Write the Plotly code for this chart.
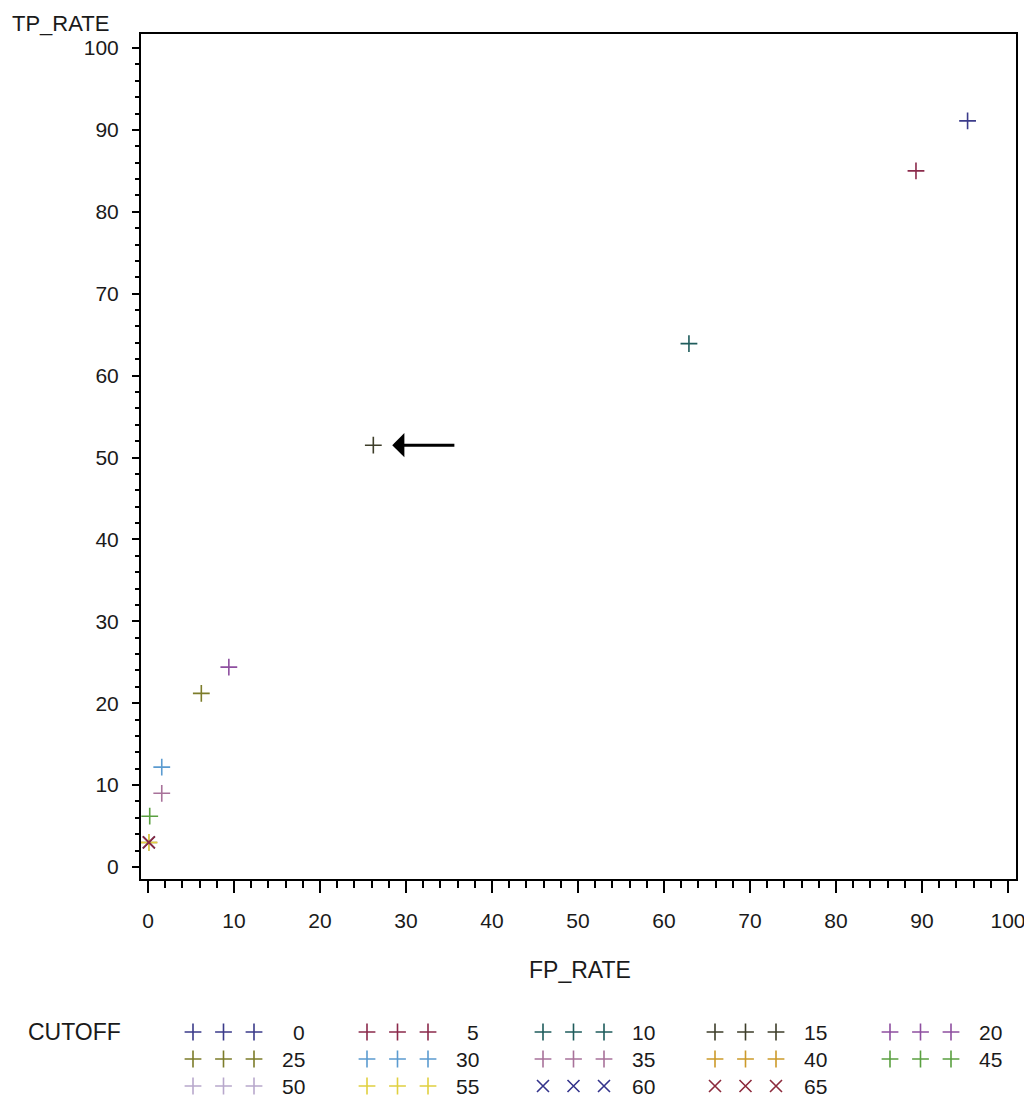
import plotly.graph_objects as go

# ---------------- data ----------------
cutoffs = [0, 5, 10, 15, 20, 25, 30, 35, 40, 45, 50, 55, 60, 65]
fp_rate = [95.3, 89.3, 62.9, 26.2, 9.4, 6.2, 1.6, 1.6, 0.1, 0.2, 0.1, 0.1, 0.1, 0.1]
tp_rate = [91.1, 85.0, 63.9, 51.5, 24.4, 21.2, 12.2, 9.0, 3.0, 6.2, 3.0, 3.0, 3.0, 3.0]
colors = ['#3B3B8A', '#8B2A4B', '#1F5C5C', '#3E3E2A', '#8E4FA0', '#7C7C2A', '#5B9BD0',
          '#A8729A', '#CC9A2A', '#5AA040', '#B8A8CC', '#E0D040', '#34348C', '#8C2A3C']
symbols = ['cross-thin'] * 12 + ['x-thin', 'x-thin']
x_ticks = list(range(0, 101, 10))
y_ticks = list(range(0, 101, 10))
arrow_tip = (28.4, 51.5)
arrow_tail = (35.8, 51.5)

# page has an 8px body margin -> shift everything up/left by 8px
OFF = 8
W, H = 1032 - OFF, 1104 - OFF
FONT = 'Liberation Sans, Arial, sans-serif'
TXT = '#1a1a1a'


def px(v):
    return v - OFF


# plot-area pixel box (reference coordinates, shifted)
L, R, T, B = px(141), px(1016), px(34), px(879)

fig = go.Figure()

MS = 12
for c, fx, ty, col, sym in zip(cutoffs, fp_rate, tp_rate, colors, symbols):
    fig.add_trace(go.Scatter(
        x=[fx], y=[ty], mode='markers', name=str(c),
        marker=dict(symbol=sym, size=MS, color=col, line=dict(color=col, width=1.6)),
        cliponaxis=False, xaxis='x', yaxis='y'))

# ---- custom legend (pixel coordinates on an invisible overlay axis) ----
col_x = [193, 367, 543, 715, 890]
row_y = [1032, 1059, 1086]
step = 30.5
annotations = []
for i, (c, col, sym) in enumerate(zip(cutoffs, colors, symbols)):
    cx = px(col_x[i % 5])
    ry = px(row_y[i // 5])
    fig.add_trace(go.Scatter(
        x=[cx, cx + step, cx + 2 * step], y=[ry, ry, ry], mode='markers',
        marker=dict(symbol=sym, size=MS, color=col, line=dict(color=col, width=1.6)),
        xaxis='x2', yaxis='y2', hoverinfo='skip', cliponaxis=False))
    annotations.append(dict(
        x=cx + 2 * step + 53, y=ry, xref='x2', yref='y2', text=str(c),
        showarrow=False, xanchor='right', yanchor='middle',
        font=dict(family=FONT, size=21, color=TXT)))

annotations.append(dict(x=px(26), y=px(1032), xref='x2', yref='y2', text='CUTOFF',
                        showarrow=False, xanchor='left', yanchor='middle',
                        font=dict(family=FONT, size=23, color=TXT)))
annotations.append(dict(x=px(10), y=0.5, xref='x2', yref='y2', text='TP_RATE',
                        showarrow=False, xanchor='left', yanchor='top',
                        font=dict(family=FONT, size=22, color=TXT)))
annotations.append(dict(x=(L + R) / 2 + 1, y=px(970), xref='x2', yref='y2', text='FP_RATE',
                        showarrow=False, xanchor='center', yanchor='middle',
                        font=dict(family=FONT, size=23, color=TXT)))
# arrow pointing at the chosen cutoff
annotations.append(dict(x=arrow_tip[0], y=arrow_tip[1], xref='x', yref='y',
                        ax=arrow_tail[0], ay=arrow_tail[1], axref='x', ayref='y',
                        text='', showarrow=True, arrowhead=1, arrowsize=1.35,
                        arrowwidth=3, arrowcolor='black'))

axis_common = dict(showgrid=False, zeroline=False, showline=True, linecolor='black',
                   linewidth=2, mirror=True, ticks='outside', tickcolor='black',
                   tickwidth=1.5, automargin=False,
                   tickfont=dict(family=FONT, size=21, color=TXT))

fig.update_layout(
    width=W, height=H, margin=dict(l=0, r=0, t=0, b=0, pad=0),
    paper_bgcolor='white', plot_bgcolor='rgba(0,0,0,0)', showlegend=False,
    xaxis=dict(domain=[L / W, R / W], range=[-0.814, 100.93], tickmode='array',
               tickvals=x_ticks, ticklen=12, ticklabelstandoff=10,
               minor=dict(dtick=2, tick0=0, ticks='outside', ticklen=7,
                          tickcolor='black', tickwidth=1.5),
               anchor='y', **axis_common),
    yaxis=dict(domain=[1 - B / H, 1 - T / H], range=[-1.465, 101.71], tickmode='array',
               tickvals=y_ticks, ticklen=7, ticklabelstandoff=9,
               minor=dict(dtick=2, tick0=0, ticks='outside', ticklen=4,
                          tickcolor='black', tickwidth=1.5),
               anchor='x', **axis_common),
    xaxis2=dict(domain=[0, 1], range=[0, W], visible=False, anchor='y2', fixedrange=True),
    yaxis2=dict(domain=[0, 1], range=[H, 0], visible=False, anchor='x2', fixedrange=True),
    annotations=annotations,
)

fig.write_html('out.html')
